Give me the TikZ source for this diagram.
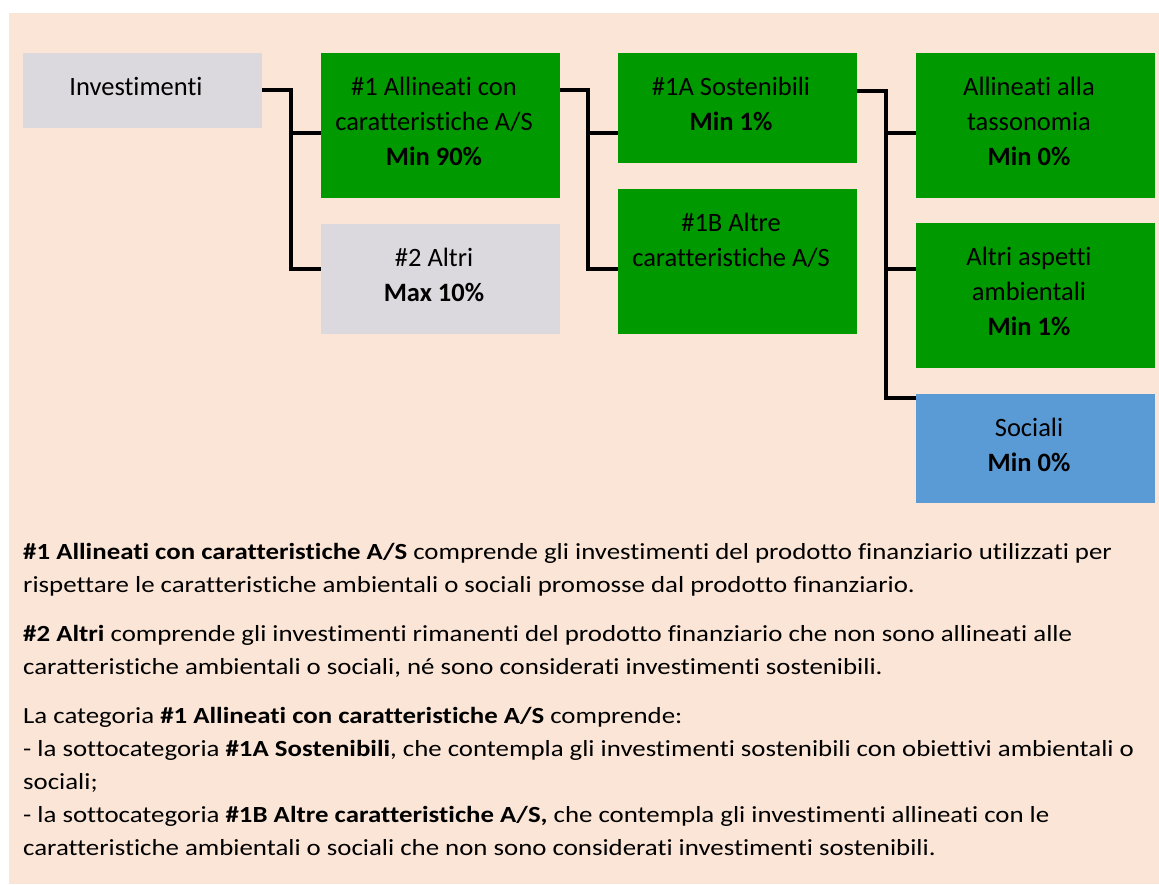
\documentclass[tikz,border=0pt]{standalone}
\usepackage{fontspec}
\setmainfont{Carlito}[Ligatures=NoCommon]
\newcommand\bxfont{\fontsize{26.5}{35}\selectfont}
\newcommand\prfont{\fontsize{26.85}{33}\selectfont}
\newcommand\prline[1]{\scalebox{1}[0.86]{#1}}
\definecolor{peach}{HTML}{FBE5D6}
\definecolor{boxgreen}{HTML}{009900}
\definecolor{boxgrey}{HTML}{DBD8DE}
\definecolor{boxblue}{HTML}{5B9BD5}
\begin{document}
\begin{tikzpicture}[x=1pt,y=-1pt,
  box/.style={rectangle, inner sep=0pt, outer sep=0pt, anchor=north west, minimum width=239pt},
  lbl/.style={anchor=base, inner sep=0pt, font=\bxfont, text=black},
  para/.style={anchor=base west, inner sep=0pt, font=\prfont, text=black},
  conn/.style={line width=4pt, black, line join=miter}]
\useasboundingbox (0,0) rectangle (1159,884);
\fill[white] (0,0) rectangle (1159,884);
\fill[peach] (9,13) rectangle (1159,884);
% boxes
\node[box, fill=boxgrey, minimum height=75pt] (inv) at (23,53) {};
\node[box, fill=boxgreen, minimum height=145pt] (n1) at (321,53) {};
\node[box, fill=boxgrey, minimum height=110pt] (n2) at (321,224) {};
\node[box, fill=boxgreen, minimum height=110pt] (n1a) at (618,53) {};
\node[box, fill=boxgreen, minimum height=145pt] (n1b) at (618,189) {};
\node[box, fill=boxgreen, minimum height=145pt] (tax) at (916,53) {};
\node[box, fill=boxgreen, minimum height=145pt] (amb) at (916,223) {};
\node[box, fill=boxblue, minimum height=109pt] (soc) at (916,394) {};
% box texts
\node[lbl] (inv1) at ([xshift=-6.5pt,yshift=-42pt]inv.north) {Investimenti};
\node[lbl] (n1l1) at ([xshift=-6.5pt,yshift=-42pt]n1.north) {\#1 Allineati con};
\node[lbl] (n1l2) at ([xshift=-6.5pt,yshift=-77pt]n1.north) {caratteristiche A/S};
\node[lbl] (n1l3) at ([xshift=-6.5pt,yshift=-112pt]n1.north) {\textbf{Min 90\%}};
\node[lbl] (n2l1) at ([xshift=-6.5pt,yshift=-42pt]n2.north) {\#2 Altri};
\node[lbl] (n2l2) at ([xshift=-6.5pt,yshift=-77pt]n2.north) {\textbf{Max 10\%}};
\node[lbl] (n1al1) at ([xshift=-6.5pt,yshift=-42pt]n1a.north) {\#1A Sostenibili};
\node[lbl] (n1al2) at ([xshift=-6.5pt,yshift=-77pt]n1a.north) {\textbf{Min 1\%}};
\node[lbl] (n1bl1) at ([xshift=-6.5pt,yshift=-42pt]n1b.north) {\#1B Altre};
\node[lbl] (n1bl2) at ([xshift=-6.5pt,yshift=-77pt]n1b.north) {caratteristiche A/S};
\node[lbl] (taxl1) at ([xshift=-6.5pt,yshift=-42pt]tax.north) {Allineati alla};
\node[lbl] (taxl2) at ([xshift=-6.5pt,yshift=-77pt]tax.north) {tassonomia};
\node[lbl] (taxl3) at ([xshift=-6.5pt,yshift=-112pt]tax.north) {\textbf{Min 0\%}};
\node[lbl] (ambl1) at ([xshift=-6.5pt,yshift=-42pt]amb.north) {Altri aspetti};
\node[lbl] (ambl2) at ([xshift=-6.5pt,yshift=-77pt]amb.north) {ambientali};
\node[lbl] (ambl3) at ([xshift=-6.5pt,yshift=-112pt]amb.north) {\textbf{Min 1\%}};
\node[lbl] (socl1) at ([xshift=-6.5pt,yshift=-42pt]soc.north) {Sociali};
\node[lbl] (socl2) at ([xshift=-6.5pt,yshift=-77pt]soc.north) {\textbf{Min 0\%}};
% connectors
\coordinate (j1) at (291,90);
\coordinate (j2) at (588,90);
\coordinate (j3) at (886,91);
\draw[conn] (inv.east |- 0,90) -| (j1 |- 0,269) -- (n2.west |- 0,269);
\draw[conn] (j1 |- 0,133) -- (n1.west |- 0,133);
\draw[conn] (n1.east |- 0,90) -| (j2 |- 0,269) -- (n1b.west |- 0,269);
\draw[conn] (j2 |- 0,133) -- (n1a.west |- 0,133);
\draw[conn] (n1a.east |- 0,91) -| (j3 |- 0,398) -- (soc.west |- 0,398);
\draw[conn] (j3 |- 0,133) -- (tax.west |- 0,133);
\draw[conn] (j3 |- 0,269) -- (amb.west |- 0,269);
% paragraphs
\node[para] (p1) at (23,559) {\prline{\textbf{\#1 Allineati con caratteristiche A/S} comprende gli investimenti del prodotto finanziario utilizzati per}};
\node[para] (p2) at (23,592) {\prline{rispettare le caratteristiche ambientali o sociali promosse dal prodotto finanziario.}};
\node[para] (p3) at (23,641) {\prline{\textbf{\#2 Altri} comprende gli investimenti rimanenti del prodotto finanziario che non sono allineati alle}};
\node[para] (p4) at (23,674) {\prline{caratteristiche ambientali o sociali, né sono considerati investimenti sostenibili.}};
\node[para] (p5) at (23,723) {\prline{La categoria \textbf{\#1 Allineati con caratteristiche A/S} comprende:}};
\node[para] (p6) at (23,756) {\prline{- la sottocategoria \textbf{\#1A Sostenibili}, che contempla gli investimenti sostenibili con obiettivi ambientali o}};
\node[para] (p7) at (23,789) {\prline{sociali;}};
\node[para] (p8) at (23,822) {\prline{- la sottocategoria \textbf{\#1B Altre caratteristiche A/S,} che contempla gli investimenti allineati con le}};
\node[para] (p9) at (23,855) {\prline{caratteristiche ambientali o sociali che non sono considerati investimenti sostenibili.}};
\end{tikzpicture}
\end{document}
